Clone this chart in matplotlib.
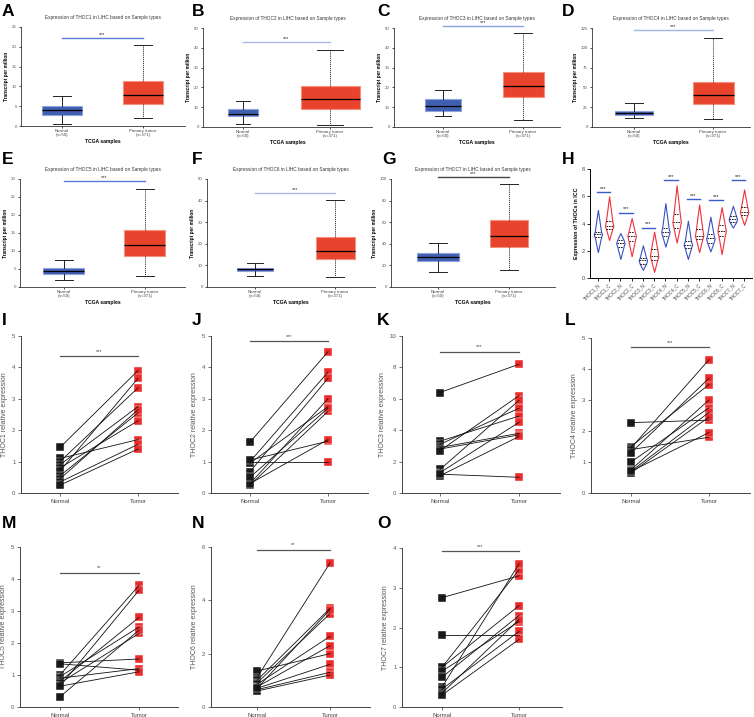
import matplotlib
matplotlib.use("Agg")
import matplotlib.pyplot as plt

plt.rcParams['font.family'] = ['Liberation Sans', 'DejaVu Sans']

# ---------------- data: TCGA box plots (A-G) ----------------
box_genes = ["THOC1", "THOC2", "THOC3", "THOC4", "THOC5", "THOC6", "THOC7"]
box_letters = ["A", "B", "C", "D", "E", "F", "G"]
box_ymax = [25, 50, 50, 125, 30, 50, 100]
box_ystep = [5, 10, 10, 25, 5, 10, 20]
# whislo, q1, med, q3, whishi
normal_stats = [
    [0.6, 2.9, 4.1, 5.0, 7.6],
    [1.5, 5.4, 6.6, 9.3, 13.1],
    [5.7, 7.9, 10.8, 14.1, 18.7],
    [11.3, 14.7, 17.2, 20.0, 29.8],
    [2.0, 3.7, 4.5, 5.4, 7.4],
    [4.9, 7.6, 8.3, 8.8, 11.3],
    [14.3, 24.2, 28.0, 31.7, 41.0],
]
tumor_stats = [
    [1.9, 5.6, 7.8, 11.3, 20.4],
    [1.2, 8.9, 14.3, 20.9, 39.0],
    [3.4, 15.0, 20.5, 27.8, 47.5],
    [10.0, 28.5, 41.0, 57.0, 113.0],
    [3.0, 8.6, 11.6, 15.7, 27.2],
    [4.5, 13.0, 16.7, 23.1, 40.1],
    [16.1, 37.3, 47.5, 61.8, 95.3],
]
box_sig_y = [22.3, 42.8, 51.0, 122.0, 29.4, 43.4, 101.9]
box_xticklabels = ["Normal\n(n=50)", "Primary tumor\n(n=371)"]

# ---------------- data: violin plot (H) ----------------
violin_labels = ["THOC1_N", "THOC1_C", "THOC2_N", "THOC2_C", "THOC3_N", "THOC3_C",
                 "THOC4_N", "THOC4_C", "THOC5_N", "THOC5_C", "THOC6_N", "THOC6_C",
                 "THOC7_N", "THOC7_C"]
violin_lo = [1.9, 2.8, 1.4, 1.6, 0.6, 0.45, 2.3, 2.6, 1.4, 1.9, 1.95, 1.75, 3.7, 3.9]
violin_q1 = [3.0, 3.6, 2.3, 2.7, 1.05, 1.35, 3.1, 3.7, 2.2, 2.85, 2.6, 3.1, 4.1, 4.6]
violin_med = [3.2, 3.8, 2.55, 3.1, 1.3, 1.6, 3.4, 4.1, 2.45, 3.1, 2.9, 3.45, 4.3, 4.85]
violin_q3 = [3.4, 4.2, 2.8, 3.4, 1.5, 2.1, 3.7, 4.7, 2.7, 3.6, 3.2, 3.9, 4.55, 5.2]
violin_hi = [5.0, 6.0, 3.3, 4.4, 2.4, 3.4, 5.5, 6.8, 4.2, 5.4, 4.5, 5.2, 5.3, 6.5]
violin_sig_y = [6.3, 4.8, 3.7, 7.2, 5.8, 5.7, 7.2]

# ---------------- data: paired qPCR plots (I-O) ----------------
pair_genes = ["THOC1", "THOC2", "THOC3", "THOC4", "THOC5", "THOC6", "THOC7"]
pair_letters = ["I", "J", "K", "L", "M", "N", "O"]
pair_ymax = [5, 5, 10, 5, 5, 6, 4]
pair_ystep = [1, 1, 2, 1, 1, 2, 1]
pair_normal = [
    [1.45, 1.1, 1.0, 0.9, 0.8, 0.7, 0.55, 0.45, 0.35, 0.25],
    [1.62, 1.0, 1.0, 0.95, 0.68, 1.05, 0.3, 0.25, 0.3, 0.5],
    [6.4, 3.3, 3.1, 2.9, 2.8, 2.7, 1.5, 1.3, 1.1, 1.2],
    [2.27, 1.5, 1.45, 1.4, 1.3, 1.0, 0.75, 0.7, 0.65, 0.7],
    [1.38, 1.35, 1.0, 0.95, 0.9, 0.8, 0.75, 0.65, 0.65, 0.32],
    [1.35, 1.1, 1.0, 0.9, 0.85, 0.75, 0.7, 0.65, 0.6, 0.7],
    [2.75, 1.8, 1.0, 1.0, 0.9, 0.75, 0.5, 0.45, 0.35, 0.3],
]
pair_tumor = [
    [3.9, 1.7, 3.35, 2.75, 2.3, 3.65, 2.55, 2.65, 1.55, 1.4],
    [4.5, 3.85, 1.0, 2.75, 3.65, 1.65, 3.0, 2.6, 1.7, 2.7],
    [8.2, 4.9, 5.4, 3.8, 3.7, 6.2, 5.9, 4.5, 3.6, 1.0],
    [2.35, 3.5, 4.3, 1.8, 3.7, 2.75, 3.0, 2.6, 2.45, 1.95],
    [1.5, 1.15, 3.8, 2.5, 1.2, 2.8, 2.3, 1.1, 3.65, 2.4],
    [2.0, 5.4, 3.7, 3.5, 2.65, 2.3, 1.6, 1.3, 1.2, 3.65],
    [3.3, 1.8, 3.45, 2.55, 2.15, 2.3, 3.6, 1.9, 2.2, 1.7],
]
pair_sig_y = [4.36, 4.83, 9.0, 4.71, 4.19, 5.9, 3.92]
pair_sig_text = ["***", "***", "***", "***", "**", "**", "***"]
pair_xticklabels = ["Normal", "Tumor"]

# ---------------- layout helpers ----------------
W, H = 754, 717
fig = plt.figure(figsize=(W / 100, H / 100), dpi=100)


def add_axes_px(L, R, T, B):
    return fig.add_axes([L / W, 1 - B / H, (R - L) / W, (B - T) / H])


def letter(x, y, s):
    fig.text(x / W, 1 - y / H, s, fontsize=12.5, fontweight='bold', va='center', ha='left')


# panel geometry: (L, R, T, B, normal_px, tumor_px, normal_width_px, tumor_width_px)
box_geom = [
    (21, 185, 27, 126, 62, 143, 40, 41),
    (203, 372, 28, 127, 243, 330, 30, 59),
    (394, 560, 28, 127, 443, 523, 36, 41),
    (592, 750, 28, 127, 634, 713, 38, 41),
    (20, 185, 179, 287, 64, 145, 41, 41),
    (207, 375, 179, 287, 255, 335, 36, 39),
    (391, 555, 179, 287, 438, 509, 42, 38),
]
box_letter_pos = [(2, 12), (192, 12), (377, 12), (562, 12),
                  (2, 160), (192, 160), (382, 160)]
sig_colors = ["#5b7bd6", "#a9b9e8", "#8aa2e2", "#9fb3ea", "#5b7bd6", "#a9b9e8", "#444444"]

for i in range(7):
    L, R, T, B, xn, xt, wn, wt = box_geom[i]
    ax = add_axes_px(L, R, T, B)
    d = xt - xn
    ax.set_xlim(1 - (xn - L) / d, 2 + (R - xt) / d)
    ax.set_ylim(0, box_ymax[i])
    stats = []
    for s in (normal_stats[i], tumor_stats[i]):
        stats.append(dict(whislo=s[0], q1=s[1], med=s[2], q3=s[3], whishi=s[4], fliers=[]))
    colors = [("#3f5fb0", "#8ea3e0"), ("#e8432c", "#f2917f")]
    for j, st in enumerate(stats):
        res = ax.bxp([st], positions=[j + 1], widths=[[wn, wt][j] / d], patch_artist=True,
                     showfliers=False, capwidths=[[wn, wt][j] / d * 0.45],
                     boxprops=dict(facecolor=colors[j][0], edgecolor=colors[j][1], linewidth=0.8),
                     medianprops=dict(color='black', linewidth=0.9),
                     whiskerprops=dict(color='#222222', linewidth=0.7,
                                       linestyle='-' if j == 0 else (0, (1, 1))),
                     capprops=dict(color='#222222', linewidth=0.7))
    ax.plot([1, 2], [box_sig_y[i]] * 2, color=sig_colors[i], lw=1.0, clip_on=False)
    ax.text(1.5, box_sig_y[i] + box_ymax[i] * 0.01, "***", fontsize=4, ha='center', va='bottom',
            color='#333333')
    ax.set_yticks(range(0, box_ymax[i] + 1, box_ystep[i]))
    ax.set_xticks([1, 2])
    ax.set_xticklabels(box_xticklabels, fontsize=3.2, color='#444444', linespacing=1.0)
    ax.tick_params(axis='y', labelsize=3.2, length=1.5, width=0.5, pad=1.5, labelcolor='#555555')
    ax.tick_params(axis='x', length=1.5, width=0.5, pad=1)
    for sp in ('top', 'right'):
        ax.spines[sp].set_visible(False)
    for sp in ('left', 'bottom'):
        ax.spines[sp].set_linewidth(0.6)
        ax.spines[sp].set_color('#333333')
    ax.set_ylabel("Transcript per million", fontsize=3.4, fontweight='bold', labelpad=2)
    ax.set_xlabel("TCGA samples", fontsize=3.6, fontweight='bold', labelpad=1)
    ax.set_title("Expression of %s in LIHC based on Sample types" % box_genes[i],
                 fontsize=3.4, color='#333333', pad=6)
    letter(*box_letter_pos[i], box_letters[i])

# ---------------- H: violin plot ----------------
axh = add_axes_px(590, 752, 169, 278)
vstats = []
for k in range(14):
    coords = [violin_lo[k], violin_q1[k], violin_med[k], violin_q3[k], violin_hi[k]]
    vals = [0.0, 0.75, 1.0, 0.75, 0.0]
    vstats.append(dict(coords=coords, vals=vals, mean=violin_med[k], median=violin_med[k],
                       min=violin_lo[k], max=violin_hi[k]))
vpos = list(range(1, 15))
vw = 0.75
parts = axh.violin(vstats, positions=vpos, widths=vw, showmeans=False,
                   showextrema=False, showmedians=False)
for k, body in enumerate(parts['bodies']):
    c = "#3b4fc4" if k % 2 == 0 else "#f0303a"
    body.set_facecolor('white')
    body.set_edgecolor(c)
    body.set_linewidth(0.8)
    body.set_alpha(1)
    for yv, frac in ((violin_q1[k], 0.75), (violin_med[k], 1.0), (violin_q3[k], 0.75)):
        hw = vw / 2 * frac * 0.85
        axh.plot([vpos[k] - hw, vpos[k] + hw], [yv, yv], color='black', lw=0.6,
                 linestyle=(0, (2, 1)))
for g in range(7):
    x0, x1 = vpos[2 * g] - 0.1, vpos[2 * g + 1] + 0.1
    axh.plot([x0, x1], [violin_sig_y[g]] * 2, color="#3a5ccc", lw=1.0)
    axh.text((x0 + x1) / 2, violin_sig_y[g] + 0.08, "***", fontsize=4, ha='center',
             va='bottom', color='#222222')
axh.set_xlim(0.3, 14.7)
axh.set_ylim(0, 8)
axh.set_yticks([0, 2, 4, 6, 8])
axh.set_xticks(vpos)
axh.set_xticklabels(violin_labels, rotation=45, ha='right', fontsize=3.3,
                    rotation_mode='anchor', color='#444444')
axh.tick_params(axis='y', labelsize=4, length=2, width=0.6, pad=1.5, labelcolor='#444444')
axh.tick_params(axis='x', length=2, width=0.6, pad=1)
for sp in ('top', 'right'):
    axh.spines[sp].set_visible(False)
for sp in ('left', 'bottom'):
    axh.spines[sp].set_linewidth(0.7)
axh.set_ylabel("Expression of THOCs in ICC", fontsize=3.8, fontweight='bold', labelpad=2)
letter(562, 160, "H")

# ---------------- I-O: paired plots ----------------
pair_geom = [
    (21, 178, 336, 493, 60, 138),
    (211, 368, 336, 493, 250, 328),
    (402, 560, 336, 493, 440, 519),
    (591, 750, 338, 493, 631, 709),
    (20, 178, 547, 707, 60, 139),
    (211, 370, 547, 707, 257, 330),
    (402, 562, 548, 707, 442, 519),
]
pair_letter_pos = [(2, 320), (192, 320), (377, 320), (565, 320),
                   (2, 523), (192, 523), (377, 523)]
for i in range(7):
    L, R, T, B, xn, xt = pair_geom[i]
    ax = add_axes_px(L, R, T, B)
    d = xt - xn
    ax.set_xlim(1 - (xn - L) / d, 2 + (R - xt) / d)
    ax.set_ylim(0, pair_ymax[i])
    nv, tv = pair_normal[i], pair_tumor[i]
    ax.plot([1] * len(nv), nv, linestyle='none', marker='s', ms=5.5, color='#1a1a1a',
            markeredgecolor='white', markeredgewidth=0.3, zorder=2, clip_on=False)
    ax.plot([2] * len(tv), tv, linestyle='none', marker='s', ms=5.8, color='#ee2a2a',
            markeredgecolor='#ffffff', markeredgewidth=0.3, zorder=2, clip_on=False)
    for a, b in zip(nv, tv):
        ax.plot([1, 2], [a, b], color='#111111', lw=0.6, zorder=3)
    ax.plot([1, 2], [pair_sig_y[i]] * 2, color='#555555', lw=0.9)
    ax.text(1.5, pair_sig_y[i] + pair_ymax[i] * 0.015, pair_sig_text[i], fontsize=4,
            ha='center', va='bottom', color='#444444')
    ax.set_yticks(range(0, pair_ymax[i] + 1, pair_ystep[i]))
    ax.set_xticks([1, 2])
    ax.set_xticklabels(pair_xticklabels, fontsize=4.3, color='#444444')
    ax.tick_params(axis='y', labelsize=4.3, length=2, width=0.6, pad=2, labelcolor='#555555',
                   color='#555555')
    ax.tick_params(axis='x', length=2, width=0.6, pad=2, color='#555555')
    for sp in ('top', 'right'):
        ax.spines[sp].set_visible(False)
    for sp in ('left', 'bottom'):
        ax.spines[sp].set_linewidth(0.7)
        ax.spines[sp].set_color('#444444')
    ax.set_ylabel("%s relative expression" % pair_genes[i], fontsize=5, color='#555555',
                  labelpad=3)
    letter(*pair_letter_pos[i], pair_letters[i])

fig.savefig("out.png", dpi=100, facecolor='white')
